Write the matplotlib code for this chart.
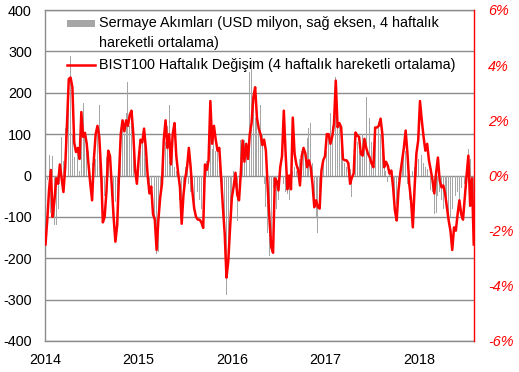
import matplotlib
matplotlib.use("Agg")
import matplotlib.pyplot as plt
import matplotlib.ticker as mticker
from matplotlib.patches import Rectangle
from matplotlib.lines import Line2D
import pandas as pd

plt.rcParams['font.family'] = ['Liberation Sans', 'DejaVu Sans']
plt.rcParams['axes.unicode_minus'] = False

start_date = '2014-01-03'

flows = [
    -15, -12, 50, -90, 48, -120, -120, -80, -20, 92,
    36, 116, 60, 230, 290, 100, 45, 20, 60, 10,
    150, 175, 100, 90, 60, -20, 30, -20, 40, 100,
    170, -40, -60, -50, 45, 45, 30, -50, -65, -65,
    -100, -125, 60, 130, 100, 150, 225, 120, 140, 60,
    20, -20, 30, 60, 80, 100, 40, -20, -30, -60,
    -125, -130, -190, -185, -50, 30, 100, 80, 120, 170,
    60, 110, 20, 10, -10, -60, -100, -70, 20, 50,
    -20, -40, -60, -75, -50, -40, -60, -80, -60, 20,
    36, 100, 180, 65, 105, 60, 70, 40, -20, -85,
    -140, -290, -220, -105, -60, 12, -30, -110, 50, 85,
    60, 85, 60, 120, 250, 280, 200, 140, 160, 120,
    170, 100, -20, -75, -140, -195, -150, -30, -50, -80,
    -60, 10, 30, -20, -40, -45, -60, -70, 10, 20,
    10, 20, 40, 60, 70, 50, 90, 116, 128, 30,
    -60, -100, -140, -40, 20, 40, 85, 60, 100, 150,
    120, 180, 237, 150, 120, 100, 40, 30, 20, 25,
    15, -53, 30, 50, 80, 60, 70, 100, 80, 190,
    160, 140, 80, 60, 100, 120, 130, 100, 65, 20,
    10, -15, 15, -10, -50, -90, -70, -10, 10, 30,
    80, 60, -20, -60, -40, 10, 20, 30, 40, 60,
    50, 30, 20, 15, 10, -35, -40, -92, -90, -50,
    -40, -60, -80, -50, -70, -95, -100, -80, -70, -50,
    -40, -60, -30, 90, -20, -30, 65, 40, 20, -100,
]

bist = [
    -2.5, -1.6, -0.5, 0.2, -1.5, -0.9, -0.1, -0.3, 0.4, -0.1,
    -0.6, 0.3, 1.9, 3.5, 3.55, 3.2, 1.2, 0.85, 1.0, 0.6,
    2.3, 1.4, 1.55, 1.15, 0.4, -0.3, -0.9, 0.6, 1.5, 1.8,
    1.4, 0.2, -1.7, -1.5, -0.6, 0.9, 0.7, -0.4, -1.5, -2.4,
    -1.8, 0.0, 1.5, 2.0, 1.6, 2.0, 1.8, 2.2, 2.35, 1.5,
    0.2, -0.3, 0.6, 1.3, 1.2, 1.7, 1.0, 0.0, -0.65, -0.4,
    -1.4, -1.6, -2.7, -1.6, -0.8, -0.3, 1.3, 2.0, 1.0, 1.5,
    0.4, 1.5, 1.9, 0.7, 0.1, -0.4, -1.75, -0.7, -0.1, 0.3,
    1.0, 0.3, -0.6, -1.2, -1.5, -1.6, -1.6, -1.7, -1.9, 0.4,
    0.2, 0.55, 2.7, 1.15, 1.8, 1.3, 0.9, 1.0, -0.1, -1.15,
    -2.1, -3.7, -3.1, -1.9, -0.8, -0.4, 0.1, -0.7, -0.9, 0.1,
    1.27, 0.5, 1.15, 0.6, 1.5, 1.9, 2.83, 3.2, 2.1, 1.7,
    1.5, 1.1, 1.3, 0.9, -0.43, -1.6, -2.6, -2.8, -0.1, -0.2,
    -0.54, 0.3, 0.7, 2.35, 0.8, -0.5, 0.0, -0.5, 2.1, 0.8,
    0.4, 0.2, -0.36, 0.7, 1.0, 0.8, 0.3, 0.55, 0.3, -0.3,
    -1.15, -0.9, -1.15, -1.2, 0.18, 0.55, 0.7, 1.5, 1.5, 1.15,
    1.4, 1.88, 3.44, 1.75, 1.9, 1.75, 0.6, 0.55, 0.55, 0.45,
    -0.3, -0.07, 0.07, 1.56, 1.45, 1.4, 0.78, 0.72, 1.33, 1.0,
    0.78, 0.65, 0.43, 0.3, 1.74, 1.74, 1.8, 2.06, 1.5, 0.3,
    0.5, 0.36, 0.07, 0.18, -0.43, -1.27, -1.63, -0.54, 0.07, 0.55,
    1.0, 1.63, 0.8, -0.3, -0.9, -1.88, -0.43, 0.8, 1.27, 2.7,
    2.0, 1.4, 0.9, 1.15, 0.55, 0.2, -0.18, -0.65, 0.1, 0.65,
    -0.18, -0.43, -0.36, -0.65, -1.15, -1.63, -2.0, -2.7, -1.88, -2.0,
    -1.4, -0.9, -1.4, -1.6, -0.8, 0.0, 0.72, -1.1, -0.1, -2.5,
]

left_ticks = [-400, -300, -200, -100, 0, 100, 200, 300, 400]
right_ticks = [-6, -4, -2, 0, 2, 4, 6]
year_ticks = ['2014', '2015', '2016', '2017', '2018']

label_flows_1 = 'Sermaye Akımları (USD milyon, sağ eksen, 4 haftalık'
label_flows_2 = 'hareketli ortalama)'
label_bist = 'BIST100 Haftalık Değişim (4 haftalık hareketli ortalama)'

dates = pd.date_range(start_date, periods=len(flows), freq='W-FRI')

W, H = 519, 372
fig = plt.figure(figsize=(W / 100, H / 100), dpi=100)
L, R, T, B = 45, 474, 10, 341
ax = fig.add_axes([L / W, 1 - B / H, (R - L) / W, (B - T) / H])

grid_col = '#8c8c8c'
bar_col = '#a6a6a6'
red = '#ff0000'
fs = 10.4

ax.bar(dates, flows, width=3.5, color=bar_col, zorder=2)
ax.set_ylim(-400, 400)
ax.set_yticks(left_ticks)
ax.yaxis.grid(True, color=grid_col, linewidth=1.0, zorder=0)
ax.set_axisbelow(True)
ax.set_xlim(pd.Timestamp('2014-01-01'), dates[-1] + pd.Timedelta(days=1))
ax.set_xticks([pd.Timestamp(y + '-01-01') for y in year_ticks])
ax.set_xticklabels(year_ticks)
ax.tick_params(axis='both', length=0, labelsize=fs, colors='black')
ax.tick_params(axis='y', pad=9.5)
ax.tick_params(axis='x', pad=8.5)
for s in ['left', 'bottom', 'top']:
    ax.spines[s].set_color(grid_col)
    ax.spines[s].set_linewidth(1.0)
ax.spines['right'].set_visible(False)

ax2 = ax.twinx()
ax2.plot(dates, bist, color=red, linewidth=1.8, zorder=3)
ax2.set_ylim(-6, 6)
ax2.set_yticks(right_ticks)
ax2.yaxis.set_major_formatter(mticker.FuncFormatter(lambda v, p: f'{int(v)}%'))
ax2.tick_params(axis='y', length=0, labelsize=fs, colors=red, pad=10)
for lab in ax2.get_yticklabels():
    lab.set_fontstyle('italic')
ax2.spines['right'].set_color(red)
ax2.spines['right'].set_linewidth(1.0)
for s in ['left', 'bottom', 'top']:
    ax2.spines[s].set_visible(False)

# legend drawn manually (no frame), positions in figure pixels
def fx(x):
    return x / W

def fy(y):
    return 1 - y / H

fig.patches.append(Rectangle((fx(67), fy(27)), fx(95) - fx(67), fy(20) - fy(27),
                             transform=fig.transFigure, facecolor=bar_col,
                             edgecolor='none', zorder=5))
fig.lines.append(Line2D([fx(67), fx(95)], [fy(65), fy(65)], transform=fig.transFigure,
                        color=red, linewidth=1.8, zorder=5))
fig.text(fx(99), fy(23.5), label_flows_1, fontsize=fs, va='center', ha='left')
fig.text(fx(99), fy(43.5), label_flows_2, fontsize=fs, va='center', ha='left')
fig.text(fx(99), fy(65), label_bist, fontsize=fs, va='center', ha='left')

fig.savefig('out.png', dpi=100)
